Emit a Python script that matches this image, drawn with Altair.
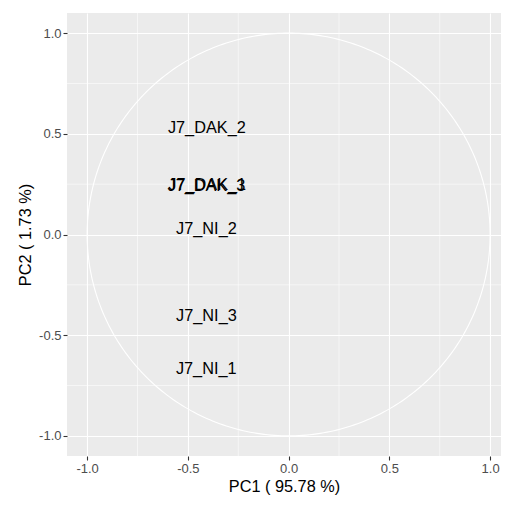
import altair as alt
import numpy as np
import pandas as pd

labels = ["J7_DAK_2", "J7_DAK_3", "J7_DAK_1", "J7_NI_2", "J7_NI_3", "J7_NI_1"]
pc1 = [-0.406, -0.408, -0.404, -0.408, -0.408, -0.409]
pc2 = [0.531, 0.240, 0.244, 0.028, -0.404, -0.670]

ticks = [-1.0, -0.5, 0.0, 0.5, 1.0]
minor = [-0.75, -0.25, 0.25, 0.75]

df = pd.DataFrame({"label": labels, "PC1": pc1, "PC2": pc2})

theta = np.linspace(0, 2 * np.pi, 361)
circle = pd.DataFrame({"x": np.cos(theta), "y": np.sin(theta), "i": np.arange(len(theta))})
minor_df = pd.DataFrame({"v": minor})

xs = alt.Scale(domain=[-1.1, 1.054], nice=False, zero=False)
ys = alt.Scale(domain=[-1.1, 1.1], nice=False, zero=False)

lab = "datum.value < 0 ? '-' + format(-datum.value, '.1f') : format(datum.value, '.1f')"
xaxis = alt.Axis(values=ticks, labelExpr=lab, title="PC1 ( 95.78 %)", titlePadding=3, labelPadding=2)
yaxis = alt.Axis(values=ticks, labelExpr=lab, title="PC2 ( 1.73 %)", titlePadding=5, labelPadding=2)

vminor = alt.Chart(minor_df).mark_rule(color="white", strokeWidth=0.55).encode(
    x=alt.X("v:Q", scale=xs, axis=xaxis)
)
hminor = alt.Chart(minor_df).mark_rule(color="white", strokeWidth=0.55).encode(
    y=alt.Y("v:Q", scale=ys, axis=yaxis)
)

circ = alt.Chart(circle).mark_line(color="white", strokeWidth=1.1).encode(
    x=alt.X("x:Q", scale=xs, axis=xaxis),
    y=alt.Y("y:Q", scale=ys, axis=yaxis),
    order="i:Q",
)

text = alt.Chart(df).mark_text(font="Liberation Sans", fontSize=16.3, color="black").encode(
    x=alt.X("PC1:Q", scale=xs, axis=xaxis),
    y=alt.Y("PC2:Q", scale=ys, axis=yaxis),
    text="label:N",
)

chart = alt.layer(vminor, hminor, circ, text).properties(
    width=434, height=443,
    autosize=alt.AutoSizeParams(type="none"),
    padding={"left": 59, "top": 5, "right": 0, "bottom": 42},
).configure_view(
    fill="#EBEBEB", stroke=None
).configure_axis(
    domain=False,
    grid=True, gridColor="white", gridWidth=1.1,
    tickColor="#333333", tickSize=4, tickWidth=1.1,
    labelColor="#4D4D4D", labelFontSize=13, labelFont="Liberation Sans",
    titleFont="Liberation Sans", titleFontSize=16.3, titleFontWeight="normal", titleColor="black",
)

chart.save("out.html", embed_options={"renderer": "svg", "actions": False})
